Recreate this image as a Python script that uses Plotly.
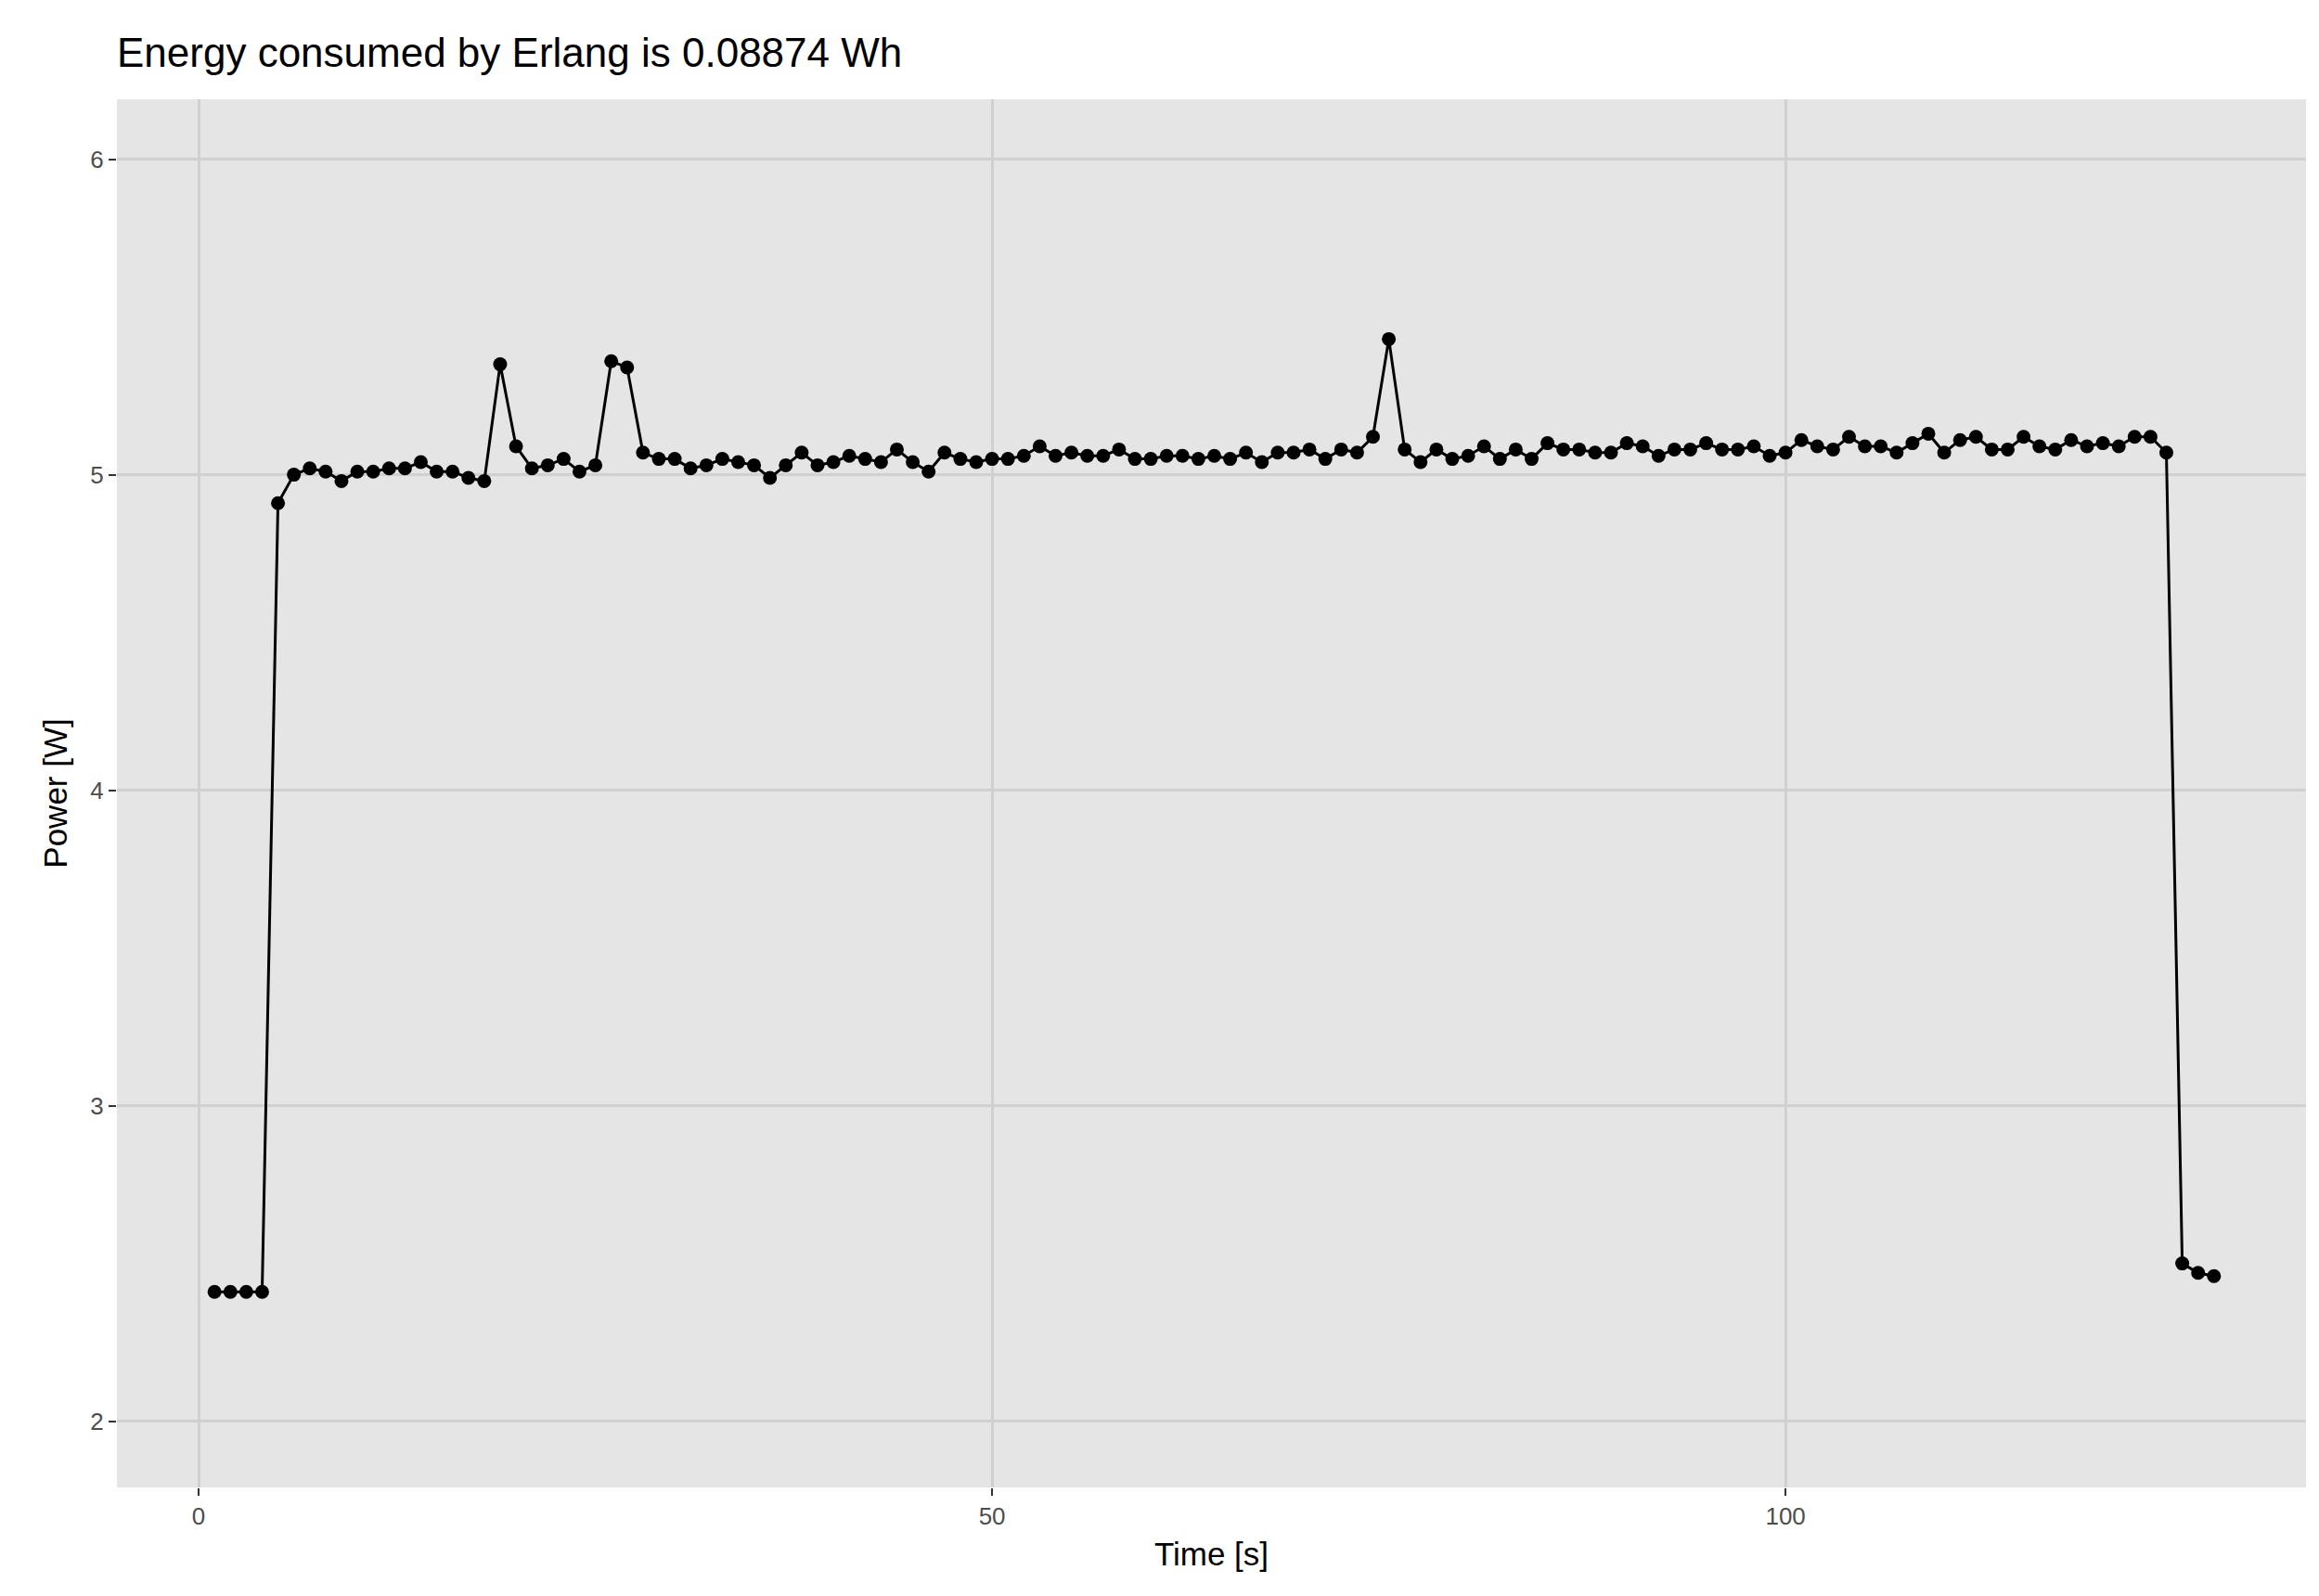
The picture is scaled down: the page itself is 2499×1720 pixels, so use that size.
import plotly.graph_objects as go

time_s = list(range(1, 128))
power_w = [2.41, 2.41, 2.41, 2.41,
    4.91, 5.00, 5.02, 5.01, 4.98, 5.01, 5.01, 5.02, 5.02, 5.04, 5.01, 5.01, 4.99, 4.98, 5.35, 5.09,
    5.02, 5.03, 5.05, 5.01, 5.03, 5.36, 5.34, 5.07, 5.05, 5.05, 5.02, 5.03, 5.05, 5.04, 5.03, 4.99,
    5.03, 5.07, 5.03, 5.04, 5.06, 5.05, 5.04, 5.08, 5.04, 5.01, 5.07, 5.05, 5.04, 5.05, 5.05, 5.06,
    5.09, 5.06, 5.07, 5.06, 5.06, 5.08, 5.05, 5.05, 5.06, 5.06, 5.05, 5.06, 5.05, 5.07, 5.04, 5.07,
    5.07, 5.08, 5.05, 5.08, 5.07, 5.12, 5.43, 5.08, 5.04, 5.08, 5.05, 5.06, 5.09, 5.05, 5.08, 5.05,
    5.10, 5.08, 5.08, 5.07, 5.07, 5.10, 5.09, 5.06, 5.08, 5.08, 5.10, 5.08, 5.08, 5.09, 5.06, 5.07,
    5.11, 5.09, 5.08, 5.12, 5.09, 5.09, 5.07, 5.10, 5.13, 5.07, 5.11, 5.12, 5.08, 5.08, 5.12, 5.09,
    5.08, 5.11, 5.09, 5.10, 5.09, 5.12, 5.12, 5.07, 2.50, 2.47, 2.46]
x_ticks = [0, 50, 100]
y_ticks = [2, 3, 4, 5, 6]

fig = go.Figure(go.Scatter(x=time_s, y=power_w, mode="lines+markers",
    line=dict(color="black", width=3), marker=dict(color="black", size=15)))
fig.update_layout(
    width=2499, height=1720, paper_bgcolor="white", plot_bgcolor="#e5e5e5",
    margin=dict(l=118, r=22, t=99, b=125), showlegend=False,
    font=dict(family="Liberation Sans, Arial", color="black"),
    title=dict(text="Energy consumed by Erlang is 0.08874 Wh", x=0, xref="paper",
               y=0.972, yanchor="middle", font=dict(size=44)),
)
axis_common = dict(showgrid=True, gridcolor="#d0d0d0", gridwidth=3, zeroline=False,
                   ticks="outside", tickcolor="#333333", ticklen=8, tickwidth=2,
                   tickfont=dict(size=26, color="#4d4d4d"), title_font=dict(size=35))
fig.update_xaxes(range=[-5.15, 132.8], tickvals=x_ticks, title_text="Time [s]",
                 title_standoff=14, **axis_common)
fig.update_yaxes(range=[1.79, 6.19], tickvals=y_ticks, title_text="Power [W]",
                 title_standoff=14, **axis_common)
fig.write_html("out.html")
